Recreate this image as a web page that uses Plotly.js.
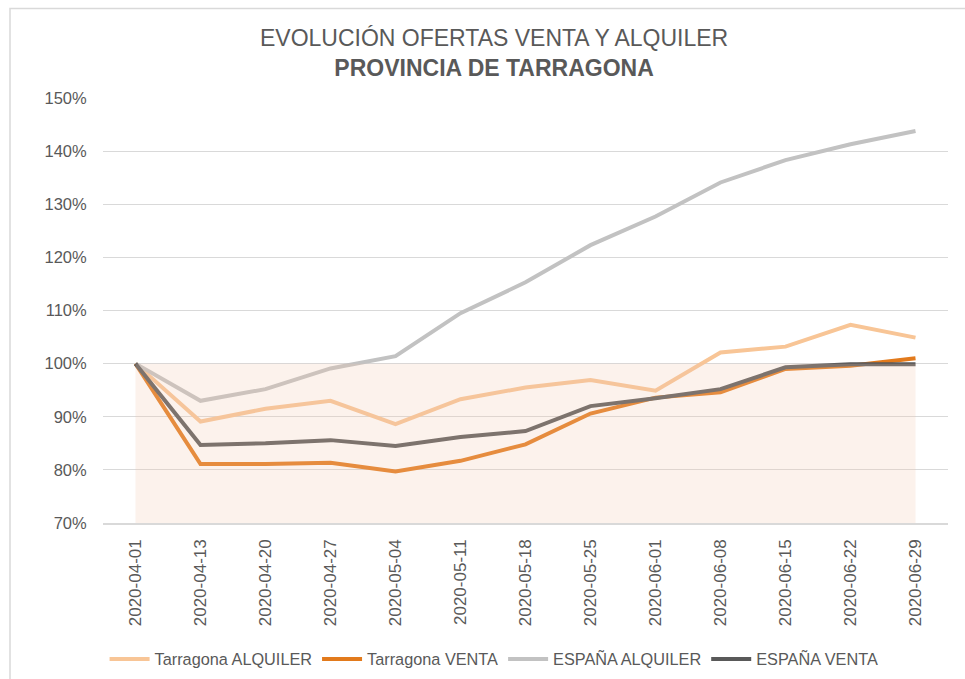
<!DOCTYPE html>
<html>
<head>
<meta charset="utf-8">
<script src="https://cdn.plot.ly/plotly-3.0.1.min.js"></script>
<style>
  html, body { margin: 0; padding: 0; background: #ffffff; }
  #chart { width: 965px; height: 679px; }
</style>
</head>
<body>
<div id="chart"></div>
<script>
// ---- data ----
const fechas = ["2020-04-01","2020-04-13","2020-04-20","2020-04-27","2020-05-04","2020-05-11","2020-05-18","2020-05-25","2020-06-01","2020-06-08","2020-06-15","2020-06-22","2020-06-29"];
const tarragonaAlquiler = [100, 89.1, 91.5, 93.0, 88.6, 93.3, 95.5, 96.9, 94.9, 102.1, 103.2, 107.3, 104.9];
const tarragonaVenta    = [100, 81.1, 81.1, 81.35, 79.7, 81.7, 84.8, 90.6, 93.6, 94.6, 99.0, 99.6, 101.0];
const espanaAlquiler    = [100, 93.0, 95.2, 99.1, 101.4, 109.5, 115.3, 122.3, 127.7, 134.1, 138.3, 141.3, 143.8];
const espanaVenta       = [100, 84.7, 85.0, 85.6, 84.5, 86.2, 87.3, 92.0, 93.5, 95.2, 99.3, 99.9, 99.9];
const banda             = [100, 100, 100, 100, 100, 100, 100, 100, 100, 100, 100, 100, 100];
const nombres = ["Tarragona ALQUILER", "Tarragona VENTA", "ESPAÑA ALQUILER", "ESPAÑA VENTA"];
const yTicks = [70, 80, 90, 100, 110, 120, 130, 140, 150];
const yTickLabels = ["70%", "80%", "90%", "100%", "110%", "120%", "130%", "140%", "150%"];

const colores = ["#F8C596", "#E27A1C", "#C2C2C2", "#595959"];
const series = [tarragonaAlquiler, tarragonaVenta, espanaAlquiler, espanaVenta];

const traces = series.map((s, i) => ({
  type: "scatter",
  mode: "lines",
  x: fechas,
  y: s.map(v => v / 100),
  name: nombres[i],
  line: { color: colores[i], width: 4 },
  hoverinfo: "x+y+name"
}));

// translucent band drawn above the lines
traces.push({
  type: "scatter",
  mode: "lines",
  x: fechas,
  y: banda.map(v => v / 100),
  fill: "tozeroy",
  fillcolor: "rgba(243,200,174,0.235)",
  line: { width: 0, color: "rgba(0,0,0,0)" },
  showlegend: false,
  hoverinfo: "skip"
});

const fontFam = "Liberation Sans, Arial, sans-serif";
const gray = "#595959";

const layout = {
  width: 965,
  height: 679,
  margin: { l: 103, r: 17, t: 98, b: 156 },
  paper_bgcolor: "#ffffff",
  plot_bgcolor: "#ffffff",
  font: { family: fontFam, color: gray, size: 15 },
  title: {
    text: "EVOLUCIÓN OFERTAS VENTA Y ALQUILER<br><b>PROVINCIA DE TARRAGONA</b>",
    font: { family: fontFam, size: 23, color: gray },
    x: 0.512, xref: "container", xanchor: "center",
    y: 0.932, yref: "container", yanchor: "top"
  },
  xaxis: {
    type: "category",
    range: [-0.5, 12.5],
    tickangle: -90,
    tickfont: { family: fontFam, size: 17, color: gray },
    showgrid: false,
    showline: true,
    linecolor: "#d9d9d9",
    linewidth: 1.5,
    ticks: "outside",
    ticklen: 8,
    tickcolor: "rgba(0,0,0,0)",
    fixedrange: true
  },
  yaxis: {
    range: [0.70, 1.50],
    tickvals: yTicks.map(v => v / 100),
    ticktext: yTickLabels,
    tickfont: { family: fontFam, size: 16.5, color: gray },
    showgrid: true,
    gridcolor: "#d9d9d9",
    gridwidth: 1.2,
    zeroline: false,
    ticks: "outside",
    ticklen: 12,
    tickcolor: "rgba(0,0,0,0)",
    fixedrange: true
  },
  legend: {
    orientation: "h",
    xref: "container", yref: "container",
    x: 0.512, xanchor: "center",
    y: 0.029, yanchor: "middle",
    font: { family: fontFam, size: 16.3, color: gray },
    itemwidth: 40,
    traceorder: "normal"
  },
  shapes: [{
    type: "rect",
    xref: "paper", yref: "paper",
    x0: (10 - 103) / 845, x1: 1.2,
    y0: -0.5, y1: (523 - 8.5) / 425,
    line: { color: "#d9d9d9", width: 1.5 },
    fillcolor: "rgba(0,0,0,0)",
    layer: "above"
  }],
  showlegend: true
};

Plotly.newPlot("chart", traces, layout, { displayModeBar: false, staticPlot: true });
</script>
</body>
</html>
